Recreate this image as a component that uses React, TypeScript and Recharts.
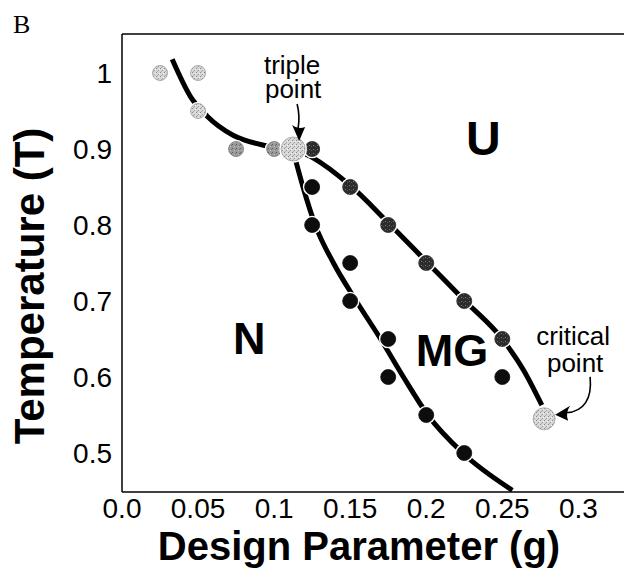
import React from "react";
import {
  ComposedChart,
  Line,
  Scatter,
  XAxis,
  YAxis,
  ReferenceLine,
  ReferenceDot
} from "recharts";

const FONT = '"Liberation Sans", Arial, Helvetica, sans-serif';
const W = 624;
const H = 569;

const X_MAX = 0.33;
const Y_MIN = 0.4487;
const Y_MAX = 1.0513;

const xTicks = [0, 0.05, 0.1, 0.15, 0.2, 0.25, 0.3];
const xTickLabels = ["0.0", "0.05", "0.1", "0.15", "0.2", "0.25", "0.3"];
const yTicks = [0.5, 0.6, 0.7, 0.8, 0.9, 1.0];
const yTickLabels = ["0.5", "0.6", "0.7", "0.8", "0.9", "1"];

// simulation points, by shade
const lightPoints = [
  { x: 0.025, y: 1.0 },
  { x: 0.05, y: 1.0 },
  { x: 0.05, y: 0.95 }
];
const greyPoints = [
  { x: 0.075, y: 0.9 },
  { x: 0.1, y: 0.9 }
];
const upperPoints = [
  { x: 0.125, y: 0.9 },
  { x: 0.15, y: 0.85 },
  { x: 0.175, y: 0.8 },
  { x: 0.2, y: 0.75 },
  { x: 0.225, y: 0.7 },
  { x: 0.25, y: 0.65 }
];
const blackPoints = [
  { x: 0.125, y: 0.85 },
  { x: 0.125, y: 0.8 },
  { x: 0.15, y: 0.75 },
  { x: 0.15, y: 0.7 },
  { x: 0.175, y: 0.65 },
  { x: 0.175, y: 0.6 },
  { x: 0.2, y: 0.55 },
  { x: 0.225, y: 0.5 },
  { x: 0.25, y: 0.6 }
];
const triplePoint = [{ x: 0.1125, y: 0.9 }];
const criticalPoint = [{ x: 0.2775, y: 0.545 }];

// phase boundaries
const curveNU = [
  { x: 0.033, y: 1.018 },
  { x: 0.045, y: 0.969 },
  { x: 0.056, y: 0.943 },
  { x: 0.073, y: 0.918 },
  { x: 0.093, y: 0.905 },
  { x: 0.112, y: 0.9 }
];
const curveNMG = [
  { x: 0.1135, y: 0.89 },
  { x: 0.119, y: 0.85 },
  { x: 0.127, y: 0.8 },
  { x: 0.139, y: 0.75 },
  { x: 0.154, y: 0.7 },
  { x: 0.17, y: 0.65 },
  { x: 0.185, y: 0.6 },
  { x: 0.201, y: 0.55 },
  { x: 0.224, y: 0.5 },
  { x: 0.2566, y: 0.451 }
];
const curveMGU = [
  { x: 0.117, y: 0.897 },
  { x: 0.125, y: 0.889 },
  { x: 0.15, y: 0.852 },
  { x: 0.175, y: 0.803 },
  { x: 0.2, y: 0.752 },
  { x: 0.225, y: 0.701 },
  { x: 0.25, y: 0.65 },
  { x: 0.264, y: 0.609 },
  { x: 0.276, y: 0.563 }
];

function dot(r: number, fill: string, rim: string) {
  return (p: any) => (
    <g>
      <circle cx={p.cx} cy={p.cy} r={r + 1.8} fill="#fff" />
      <circle cx={p.cx} cy={p.cy} r={r} fill={fill} stroke={rim} strokeWidth={0.8} />
    </g>
  );
}

function word(text: string, size: number, bold: boolean, dx = 0) {
  return (p: any) => (
    <text
      x={p.cx + dx}
      y={p.cy}
      textAnchor="middle"
      fontFamily={FONT}
      fontSize={size}
      fontWeight={bold ? 700 : 400}
      fill="#000"
    >
      {text}
    </text>
  );
}

function tripleNote(p: any) {
  const { cx, cy } = p;
  return (
    <g fontFamily={FONT} fontSize={26} fill="#000">
      <text x={cx - 1} y={cy - 75} textAnchor="middle">
        triple
        <tspan x={cx} dy={24}>point</tspan>
      </text>
      <path
        d={`M ${cx + 4} ${cy - 45} Q ${cx + 7} ${cy - 33} ${cx + 5} ${cy - 21}`}
        fill="none"
        stroke="#000"
        strokeWidth={1.6}
      />
      <path
        d={`M ${cx + 6} ${cy - 8} L ${cx - 1} ${cy - 24} Q ${cx + 5} ${cy - 19} ${cx + 12} ${cy - 22} Z`}
        fill="#000"
      />
    </g>
  );
}

function criticalNote(p: any) {
  const { cx, cy } = p;
  return (
    <g fontFamily={FONT} fontSize={26} fill="#000">
      <text x={cx + 29} y={cy - 74} textAnchor="middle">
        critical
        <tspan x={cx + 31} dy={27}>point</tspan>
      </text>
      <path
        d={`M ${cx + 46} ${cy - 42} C ${cx + 48} ${cy - 20} ${cx + 40} ${cy - 7} ${cx + 22} ${cy - 6}`}
        fill="none"
        stroke="#000"
        strokeWidth={1.6}
      />
      <path
        d={`M ${cx + 11} ${cy - 4} L ${cx + 26} ${cy - 13} Q ${cx + 21} ${cy - 6} ${cx + 24} ${cy + 2} Z`}
        fill="#000"
      />
    </g>
  );
}

export default function App() {
  return (
    <div style={{ position: "absolute", left: 0, top: 0, width: W, height: H, background: "#fff" }}>
      <svg width={0} height={0} style={{ position: "absolute" }}>
        <defs>
          <pattern id="spkLight" width={4} height={4} patternUnits="userSpaceOnUse">
            <rect width={4} height={4} fill="#d8d8d8" />
            <rect x={0} y={0} width={1} height={1} fill="#8a8a8a" />
            <rect x={2} y={2} width={1} height={1} fill="#9c9c9c" />
            <rect x={3} y={1} width={1} height={1} fill="#f2f2f2" />
            <rect x={1} y={3} width={1} height={1} fill="#b0b0b0" />
          </pattern>
          <pattern id="spkGrey" width={4} height={4} patternUnits="userSpaceOnUse">
            <rect width={4} height={4} fill="#9a9a9a" />
            <rect x={0} y={0} width={1} height={1} fill="#5e5e5e" />
            <rect x={2} y={2} width={1} height={1} fill="#c4c4c4" />
            <rect x={3} y={1} width={1} height={1} fill="#707070" />
          </pattern>
          <pattern id="spkDark" width={4} height={4} patternUnits="userSpaceOnUse">
            <rect width={4} height={4} fill="#2c2c2c" />
            <rect x={1} y={1} width={1} height={1} fill="#777" />
            <rect x={3} y={2} width={1} height={1} fill="#555" />
          </pattern>
        </defs>
      </svg>
      <ComposedChart width={W} height={H} margin={{ top: 34, right: 0, bottom: 0, left: 0 }}>
        <XAxis
          type="number"
          dataKey="x"
          domain={[0, X_MAX]}
          allowDataOverflow
          ticks={xTicks}
          tickFormatter={(v: number) => xTickLabels[xTicks.indexOf(v)] ?? String(v)}
          tick={{ fontSize: 28, fill: "#000", fontFamily: FONT }}
          tickLine={false}
          tickSize={6}
          tickMargin={0}
          axisLine={{ stroke: "#000", strokeWidth: 1.5 }}
          height={77}
        />
        <YAxis
          type="number"
          dataKey="y"
          domain={[Y_MIN, Y_MAX]}
          allowDataOverflow
          ticks={yTicks}
          tickFormatter={(v: number) => yTickLabels[yTicks.indexOf(v)] ?? String(v)}
          tick={{ fontSize: 28, fill: "#000", fontFamily: FONT }}
          tickLine={false}
          tickSize={6}
          tickMargin={4}
          axisLine={{ stroke: "#000", strokeWidth: 1.5 }}
          width={122}
        />
        <ReferenceLine y={Y_MAX} stroke="#000" strokeWidth={1.5} />

        <Line data={curveNU} dataKey="y" type="monotone" stroke="#000" strokeWidth={5} dot={false} activeDot={false} isAnimationActive={false} />
        <Line data={curveNMG} dataKey="y" type="monotone" stroke="#000" strokeWidth={5} dot={false} activeDot={false} isAnimationActive={false} />
        <Line data={curveMGU} dataKey="y" type="monotone" stroke="#000" strokeWidth={5} dot={false} activeDot={false} isAnimationActive={false} />

        <Scatter data={lightPoints} dataKey="y" shape={dot(7.5, "url(#spkLight)", "#9a9a9a")} isAnimationActive={false} />
        <Scatter data={greyPoints} dataKey="y" shape={dot(7.5, "url(#spkGrey)", "#777")} isAnimationActive={false} />
        <Scatter data={upperPoints} dataKey="y" shape={dot(7.5, "url(#spkDark)", "#222")} isAnimationActive={false} />
        <Scatter data={blackPoints} dataKey="y" shape={dot(7.5, "#0d0d0d", "#0d0d0d")} isAnimationActive={false} />
        <Scatter data={triplePoint} dataKey="y" shape={dot(12, "url(#spkLight)", "#a0a0a0")} isAnimationActive={false} />
        <Scatter data={criticalPoint} dataKey="y" shape={dot(11, "url(#spkLight)", "#a0a0a0")} isAnimationActive={false} />

        <ReferenceDot x={0.1125} y={0.9} shape={tripleNote} />
        <ReferenceDot x={0.2775} y={0.545} shape={criticalNote} />
        <ReferenceDot x={0.2375} y={0.892} shape={word("U", 48, true)} />
        <ReferenceDot x={0.0836} y={0.63} shape={word("N", 45, true)} />
        <ReferenceDot x={0.217} y={0.6145} shape={word("MG", 45, true)} />
      </ComposedChart>
      <svg
        width={W}
        height={H}
        style={{ position: "absolute", left: 0, top: 0, pointerEvents: "none" }}
      >
        <text x={13} y={33} fontFamily='"Liberation Serif", "Times New Roman", serif' fontSize={26} fill="#000">
          B
        </text>
        <text x={359} y={560} textAnchor="middle" fontFamily={FONT} fontSize={40} fontWeight={700} fill="#000">
          Design Parameter (g)
        </text>
        <text
          x={44}
          y={286}
          transform="rotate(-90 44 286)"
          textAnchor="middle"
          fontFamily={FONT}
          fontSize={42}
          fontWeight={700}
          fill="#000"
        >
          Temperature (T)
        </text>
      </svg>
    </div>
  );
}
